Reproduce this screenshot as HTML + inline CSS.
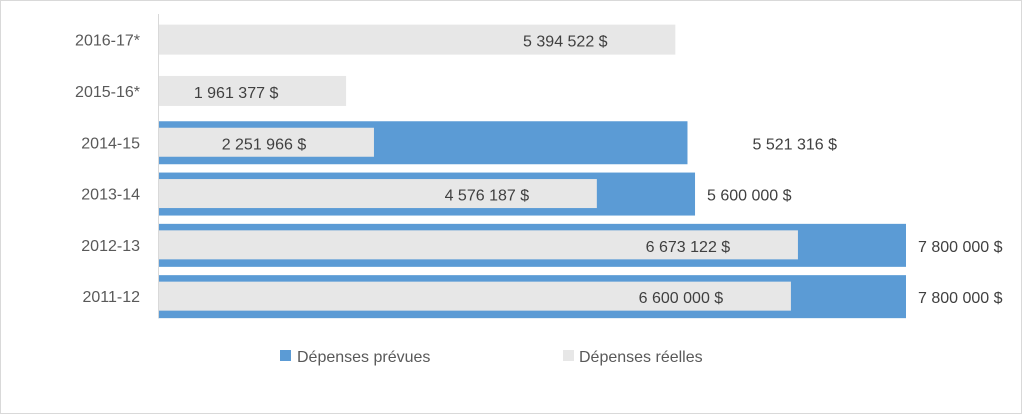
<!DOCTYPE html>
<html><head><meta charset="utf-8"><style>
body{margin:0;background:#fff;}
svg{display:block;font-family:"Liberation Sans",sans-serif;}
</style></head><body>
<svg id="chart" width="1022" height="414">
<rect x="0.5" y="0.5" width="1021" height="413" fill="#fff" stroke="#d9d9d9"/>
<g id="bars"></g>
<line x1="158.5" y1="14" x2="158.5" y2="318" stroke="#d9d9d9"/>
<g>
<rect x="280" y="350" width="11" height="11" fill="#5b9bd5"/>
<text x="297" y="362" font-size="16" fill="#595959">Dépenses prévues</text>
<rect x="563" y="350" width="11" height="11" fill="#e7e7e7"/>
<text x="579" y="362" font-size="16" fill="#595959">Dépenses réelles</text>
</g>
</svg>
<script>
const categories=["2016-17*","2015-16*","2014-15","2013-14","2012-13","2011-12"];
const planned=[null,null,5521316,5600000,7800000,7800000];
const actual=[5394522,1961377,2251966,4576187,6673122,6600000];
const plannedLabels=["","","5 521 316 $","5 600 000 $","7 800 000 $","7 800 000 $"];
const actualLabels=["5 394 522 $","1 961 377 $","2 251 966 $","4 576 187 $","6 673 122 $","6 600 000 $"];
const x0=158,x1=906,vmax=7800000;
const xs=v=>x0+(x1-x0)*v/vmax;
const plotTop=14,band=51.3;
const yc=i=>plotTop+band*(i+0.5);
const g=document.getElementById('bars');
const NS='http://www.w3.org/2000/svg';
function mk(t,a){const e=document.createElementNS(NS,t);for(const k in a)e.setAttribute(k,a[k]);g.appendChild(e);return e;}
categories.forEach((c,i)=>{
 const cy=yc(i);
 const lab=mk('text',{x:140,y:cy+6,'font-size':16,fill:'#595959','text-anchor':'end'});
 lab.textContent=c;
 
 
 if(planned[i]!=null){
  const b=mk('rect',{x:x0,y:cy-21,width:xs(planned[i])-x0,height:43,fill:'#5b9bd5'});
  
  
  const t=mk('text',{x:xs(planned[i])+(i==2?65:12),y:cy+7,'font-size':16,fill:'#404040'});
  t.textContent=plannedLabels[i];
  
  
 }
 const h=planned[i]!=null?29:30;
 const a=mk('rect',{x:x0,y:cy-h/2,width:xs(actual[i])-x0,height:h,fill:'#e7e7e7'});
 
 
 const t2=mk('text',{x:Math.max(x0+60,xs(actual[i])-110),y:cy+7,'font-size':16,fill:'#404040','text-anchor':'middle'});
 t2.textContent=actualLabels[i];
 
 
});
</script>
</body></html>
